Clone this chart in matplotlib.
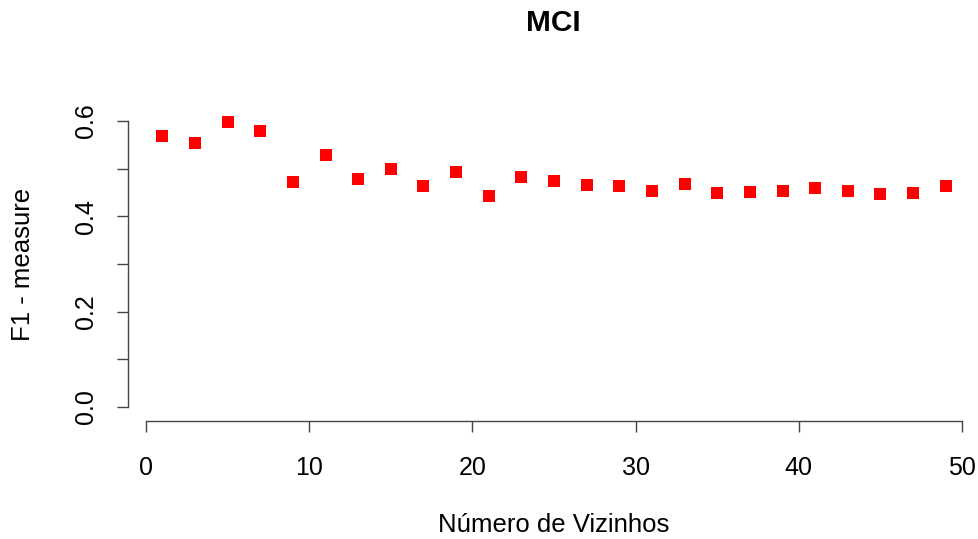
""" F1-measure by number of neighbours (MCI), R base-plot look.
"""
import matplotlib
matplotlib.use("Agg")
import matplotlib.pyplot as plt

vizinhos = [1, 3, 5, 7, 9, 11, 13, 15, 17, 19, 21, 23, 25,
            27, 29, 31, 33, 35, 37, 39, 41, 43, 45, 47, 49]
f1 = [0.569, 0.553, 0.598, 0.580, 0.472, 0.528, 0.479, 0.499, 0.464,
      0.494, 0.442, 0.482, 0.475, 0.465, 0.464, 0.453, 0.468, 0.450,
      0.451, 0.454, 0.459, 0.453, 0.447, 0.449, 0.464]
x_ticks = [0, 10, 20, 30, 40, 50]
y_ticks = [0.0, 0.1, 0.2, 0.3, 0.4, 0.5, 0.6]
y_labels = ["0.0", "", "0.2", "", "0.4", "", "0.6"]

plt.rcParams["font.family"] = ["Liberation Sans", "DejaVu Sans"]

fig = plt.figure(figsize=(9.79, 5.39), dpi=100)
ax = fig.add_axes([0.1338, 0.2237, 0.8642, 0.573])

ax.plot(vizinhos, f1, "s", color="red", markersize=8.2, markeredgewidth=0)

ax.set_xlim(-0.92, 50.92)
ax.set_ylim(-0.024, 0.624)
ax.set_xticks(x_ticks)
ax.set_yticks(y_ticks)
ax.set_yticklabels(y_labels)

for side in ("top", "right"):
    ax.spines[side].set_visible(False)
ax.spines["left"].set_bounds(0, 0.6)
ax.spines["bottom"].set_bounds(0, 50)
ax.spines["left"].set_position(("outward", 2))
ax.spines["bottom"].set_position(("outward", 2))
for side in ("left", "bottom"):
    ax.spines[side].set_color("#444444")
    ax.spines[side].set_linewidth(1.0)

ax.tick_params(axis="both", length=8, width=1.0, color="#444444",
               labelsize=18)
ax.tick_params(axis="x", pad=17)
ax.tick_params(axis="y", pad=14, labelrotation=90)
for lab in ax.get_yticklabels():
    lab.set_verticalalignment("center")

ax.set_xlabel("Número de Vizinhos", fontsize=18.5, labelpad=24)
ax.set_ylabel("F1 - measure", fontsize=18.5, labelpad=28)
fig.text(0.565, 0.957, "MCI", ha="center", va="center",
         fontsize=21.5, fontweight="bold")

fig.savefig("out.png", dpi=100)
